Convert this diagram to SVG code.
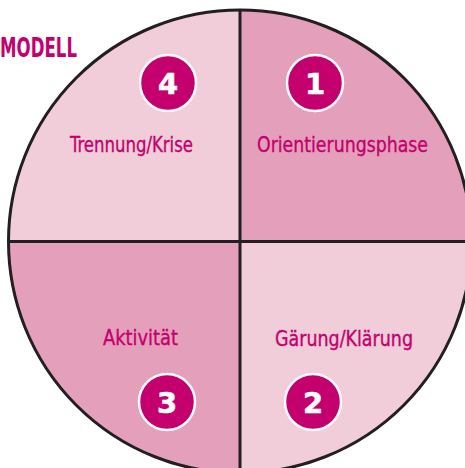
<svg xmlns="http://www.w3.org/2000/svg" width="465" height="468" viewBox="0 0 465 468">
<defs>
<style>
.lbl{font-family:"DejaVu Sans Condensed","DejaVu Sans",sans-serif;font-stretch:condensed;font-size:22px;fill:#c4006e;stroke:#c4006e;stroke-width:0.35;}
.num{font-family:"DejaVu Sans","Liberation Sans",sans-serif;font-weight:bold;font-size:29px;fill:#ffffff;text-anchor:middle;stroke:#ffffff;stroke-width:0.6;}
.badge{fill:#c4006e;stroke:#ffffff;stroke-width:2.5;}
.title{font-family:"DejaVu Sans Condensed","DejaVu Sans",sans-serif;font-stretch:condensed;font-weight:bold;font-size:27px;fill:#c4006e;}
</style>
<clipPath id="c"><circle cx="240" cy="241.5" r="231.5"/></clipPath>
</defs>
<rect width="465" height="468" fill="#ffffff"/>
<text class="title" x="0" y="57" textLength="77" lengthAdjust="spacingAndGlyphs">MODELL</text>
<g clip-path="url(#c)">
<g id="q1"><rect x="240" y="0" width="240" height="241.5" fill="#e4a0ba"/></g>
<g id="q2"><rect x="240" y="241.5" width="240" height="240" fill="#f0cdd9"/></g>
<g id="q3"><rect x="0" y="241.5" width="240" height="240" fill="#e4a0ba"/></g>
<g id="q4"><rect x="0" y="0" width="240" height="241.5" fill="#f0cdd9"/></g>
</g>
<g id="connectors" stroke="#231f20" stroke-width="3" fill="none">
<circle cx="240" cy="241.5" r="231.5"/>
<line x1="240" y1="10" x2="240" y2="473"/>
<line x1="8.5" y1="241.5" x2="471.5" y2="241.5"/>
</g>
<g id="node1">
<circle class="badge" cx="315" cy="83" r="28"/>
<text class="num" x="315" y="93.5">1</text>
<text class="lbl" x="257" y="152" textLength="171" lengthAdjust="spacingAndGlyphs">Orientierungsphase</text>
</g>
<g id="node2">
<circle class="badge" cx="313" cy="402" r="28"/>
<text class="num" x="313" y="412.5">2</text>
<text class="lbl" x="275" y="346" textLength="138" lengthAdjust="spacingAndGlyphs">Gärung/Klärung</text>
</g>
<g id="node3">
<circle class="badge" cx="167" cy="402" r="28"/>
<text class="num" x="167" y="412.5">3</text>
<text class="lbl" x="103" y="345" textLength="75" lengthAdjust="spacingAndGlyphs">Aktivität</text>
</g>
<g id="node4">
<circle class="badge" cx="168" cy="83" r="28"/>
<text class="num" x="168" y="93.5">4</text>
<text class="lbl" x="70" y="152" textLength="123" lengthAdjust="spacingAndGlyphs">Trennung/Krise</text>
</g>
</svg>
